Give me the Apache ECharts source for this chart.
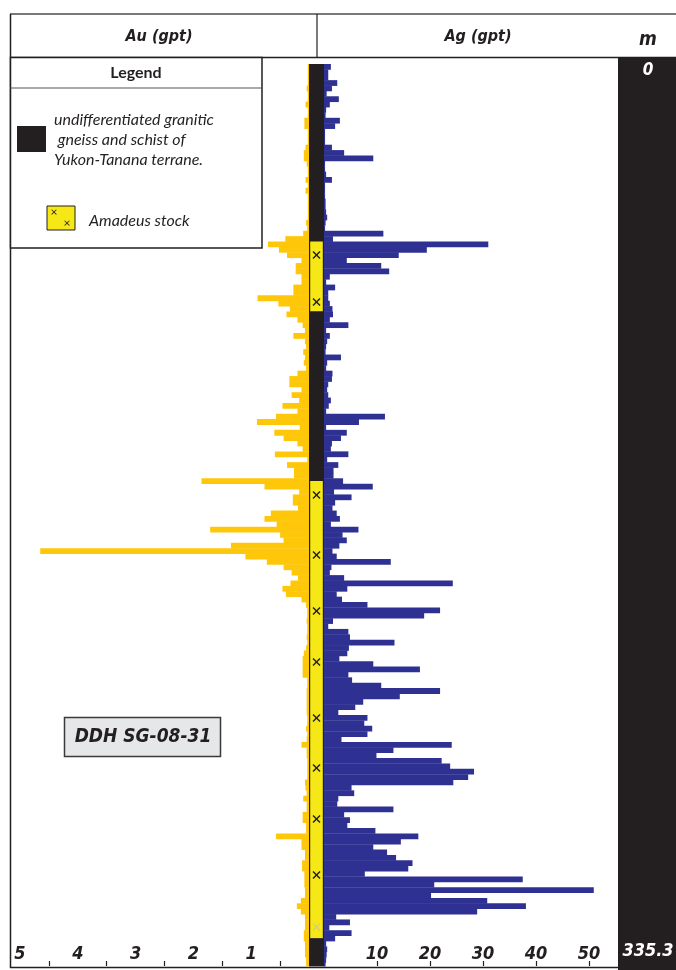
<!DOCTYPE html>
<html>
<head>
<meta charset="utf-8">
<script src="https://cdn.jsdelivr.net/npm/echarts@6/dist/echarts.min.js"></script>
<style>
  html, body { margin: 0; padding: 0; background: #fff; }
  #log { width: 676px; height: 970px; }
</style>
</head>
<body>
<div id="log"></div>
<script>
// drill hole DDH SG-08-31, 2 m assay intervals from collar (0 m) to 335.3 m
var holeDepth = 335.3;
var sampleLength = 2;

// Au (gpt) per interval, top to bottom
var auValues = [
  0.02, 0.02, 0.02, 0.02, 0.04, 0.02, 0.02, 0.06, 0.02, 0.02,
  0.08, 0.08, 0.02, 0.02, 0.02, 0.06, 0.09, 0.09, 0.04, 0.02,
  0.02, 0.06, 0.02, 0.06, 0.02, 0.02, 0.02, 0.02, 0.02, 0.05,
  0.03, 0.1, 0.41, 0.71, 0.52, 0.38, 0.13, 0.23, 0.23, 0.13,
  0.13, 0.27, 0.27, 0.89, 0.53, 0.33, 0.39, 0.2, 0.11, 0.07,
  0.27, 0.07, 0.05, 0.1, 0.07, 0.09, 0.05, 0.2, 0.34, 0.34,
  0.13, 0.3, 0.17, 0.46, 0.2, 0.57, 0.9, 0.16, 0.6, 0.44,
  0.2, 0.11, 0.59, 0.03, 0.38, 0.26, 0.26, 1.86, 0.77, 0.17,
  0.28, 0.28, 0.19, 0.66, 0.77, 0.56, 1.71, 0.5, 0.44, 1.35,
  4.65, 1.1, 0.73, 0.44, 0.3, 0.19, 0.32, 0.46, 0.4, 0.13,
  0.05, 0.03, 0.03, 0.04, 0.03, 0.03, 0.04, 0.03, 0.05, 0.09,
  0.11, 0.11, 0.11, 0.11, 0.03, 0.03, 0.04, 0.04, 0.04, 0.04,
  0.04, 0.03, 0.03, 0.05, 0.03, 0.04, 0.13, 0.04, 0.04, 0.03,
  0.03, 0.03, 0.03, 0.07, 0.06, 0.04, 0.1, 0.04, 0.04, 0.11,
  0.11, 0.05, 0.05, 0.57, 0.13, 0.13, 0.07, 0.07, 0.12, 0.12,
  0.08, 0.08, 0.08, 0.07, 0.07, 0.14, 0.21, 0.14, 0.07, 0.07,
  0.07, 0.09, 0.09, 0.07, 0.07, 0.07, 0.05, 0.05
];

// Ag (gpt) per interval, top to bottom
var agValues = [
  1.3, 0.8, 0.8, 2.5, 1.5, 0.5, 2.8, 1.1, 0.4, 0.3,
  3.0, 2.1, 0.2, 0.2, 0.2, 1.5, 3.8, 9.3, 0.2, 0.2,
  0.4, 1.5, 0.2, 0.2, 0.2, 0.3, 0.3, 0.4, 0.6, 0.3,
  0.2, 11.2, 1.7, 31, 19.4, 14.1, 4.3, 10.8, 12.3, 1.1,
  0.4, 2.1, 0.8, 0.8, 1.1, 1.6, 1.7, 1.1, 4.6, 0.4,
  1.1, 0.6, 0.4, 0.3, 3.2, 0.6, 0.4, 1.6, 1.5, 0.8,
  0.6, 0.8, 1.3, 0.9, 0.4, 11.5, 6.6, 0.4, 4.3, 3.2,
  1.5, 1.3, 4.6, 0.6, 2.7, 1.8, 1.8, 3.6, 9.2, 1.9,
  5.2, 2.1, 1.6, 2.4, 3.0, 1.3, 6.5, 3.5, 4.3, 2.9,
  1.6, 2.4, 12.6, 1.4, 1.1, 3.8, 24.3, 4.4, 2.4, 3.4,
  8.2, 21.9, 18.9, 1.7, 0.8, 4.6, 4.9, 13.3, 4.7, 4.4,
  2.9, 9.3, 18.1, 4.6, 5.3, 10.8, 21.9, 14.3, 7.4, 5.9,
  2.7, 8.2, 7.6, 9.1, 8.2, 3.3, 24.1, 13.1, 9.9, 22.2,
  23.8, 28.3, 27.2, 24.4, 5.2, 5.7, 2.7, 2.5, 13.1, 3.8,
  4.9, 4.4, 9.7, 17.8, 14.5, 9.3, 11.9, 13.6, 16.7, 15.9,
  7.7, 37.5, 20.8, 50.9, 20.2, 30.8, 38.1, 28.9, 2.3, 4.9,
  1.0, 5.2, 2.1, 0.4, 0.6, 0.5, 0.4, 0.3
];

// lithology intervals (m)
var lithoTops    = [0, 66, 92, 155, 325];
var lithoBottoms = [66, 92, 155, 325, 335.3];
var lithoUnits   = ['gneiss', 'stock', 'gneiss', 'stock', 'gneiss'];

// "x" symbols of the Amadeus stock (m)
var stockMarkDepths = [71.0, 88.5, 160.2, 182.5, 203.3, 222.3, 243.1, 261.7, 280.7, 301.5];
var faintMarkDepths = [320.8];

var auTickLabels = [1, 2, 3, 4, 5];
var auTickMarks  = [0.5, 1.5, 2.5, 3.5, 4.5];
var agTickLabels = [10, 20, 30, 40, 50];

var AU_COLOR = '#ffc709';
var AG_COLOR = '#2e3192';
var ROCK_DARK = '#231f20';
var ROCK_STOCK = '#f6e816';
var FONT = '"Liberation Sans Narrow", "DejaVu Sans Condensed", "DejaVu Sans", sans-serif';
var FONT2 = 'Lato, "Liberation Sans", sans-serif';

function toIntervals(values) {
  return values.map(function (v, i) {
    var top = i * sampleLength;
    return [top, Math.min(top + sampleLength, holeDepth), v];
  });
}

function barRenderer(color) {
  return function (params, api) {
    var a = api.coord([0, api.value(0)]);
    var b = api.coord([api.value(2), api.value(1)]);
    return {
      type: 'rect',
      shape: { x: Math.min(a[0], b[0]), y: a[1], width: Math.abs(b[0] - a[0]), height: b[1] - a[1] + 0.4 },
      style: { fill: color }
    };
  };
}

function markRenderer(color) {
  return function (params, api) {
    var c = api.coord([0.5, api.value(0)]);
    var s = 3.5;
    return {
      type: 'group',
      children: [
        { type: 'line', shape: { x1: c[0] - s, y1: c[1] - s, x2: c[0] + s, y2: c[1] + s }, style: { stroke: color, lineWidth: 1.4 } },
        { type: 'line', shape: { x1: c[0] - s, y1: c[1] + s, x2: c[0] + s, y2: c[1] - s }, style: { stroke: color, lineWidth: 1.4 } }
      ]
    };
  };
}

var lithoData = lithoTops.map(function (t, i) {
  return [t, lithoBottoms[i], lithoUnits[i] === 'stock' ? 1 : 0];
});

var axisLabelStyle = {
  inside: true,
  margin: 3,
  color: '#231f20',
  fontFamily: FONT,
  fontWeight: 'bold',
  fontStyle: 'italic',
  fontSize: 18
};

var myChart = echarts.init(document.getElementById('log'), null, { renderer: 'canvas' });

var option = {
  animation: false,
  grid: [
    { left: 20, top: 64, width: 289, height: 902 },
    { left: 309, top: 64, width: 15, height: 902 },
    { left: 324, top: 64, width: 291.5, height: 902 }
  ],
  xAxis: [
    {
      gridIndex: 0, type: 'value', position: 'bottom', min: 0, max: 5, inverse: true,
      axisLine: { show: false, onZero: false }, splitLine: { show: false },
      axisTick: { show: true, inside: true, length: 5, customValues: auTickMarks, lineStyle: { color: '#231f20', width: 1.2 } },
      axisLabel: Object.assign({ customValues: auTickLabels }, axisLabelStyle)
    },
    { gridIndex: 1, type: 'value', min: 0, max: 1, show: false },
    {
      gridIndex: 2, type: 'value', position: 'bottom', min: 0, max: 55,
      axisLine: { show: false, onZero: false }, splitLine: { show: false },
      axisTick: { show: true, inside: true, length: 5, customValues: agTickLabels, lineStyle: { color: '#231f20', width: 1.2 } },
      axisLabel: Object.assign({ customValues: agTickLabels }, axisLabelStyle)
    }
  ],
  yAxis: [0, 1, 2].map(function (g) {
    return { gridIndex: g, type: 'value', min: 0, max: holeDepth, inverse: true, show: false };
  }),
  series: [
    {
      name: 'Au (gpt)', type: 'custom', xAxisIndex: 0, yAxisIndex: 0,
      data: toIntervals(auValues), encode: { x: 2, y: [0, 1] },
      renderItem: barRenderer(AU_COLOR), silent: true
    },
    {
      name: 'Ag (gpt)', type: 'custom', xAxisIndex: 2, yAxisIndex: 2,
      data: toIntervals(agValues), encode: { x: 2, y: [0, 1] },
      renderItem: barRenderer(AG_COLOR), silent: true
    },
    {
      name: 'lithology', type: 'custom', xAxisIndex: 1, yAxisIndex: 1,
      data: lithoData, encode: { y: [0, 1] },
      renderItem: function (params, api) {
        var a = api.coord([0, api.value(0)]);
        var b = api.coord([1, api.value(1)]);
        var dark = { type: 'rect', shape: { x: a[0], y: a[1], width: b[0] - a[0], height: b[1] - a[1] + 0.4 }, style: { fill: ROCK_DARK } };
        if (api.value(2) === 0) return dark;
        return {
          type: 'group',
          children: [
            dark,
            { type: 'rect', shape: { x: a[0] + 1.2, y: a[1], width: b[0] - a[0] - 2.4, height: b[1] - a[1] }, style: { fill: ROCK_STOCK } }
          ]
        };
      },
      silent: true
    },
    {
      name: 'stock marks', type: 'custom', xAxisIndex: 1, yAxisIndex: 1,
      data: stockMarkDepths.map(function (d) { return [d]; }), encode: { y: 0 },
      renderItem: markRenderer('#231f20'), silent: true, z: 3
    },
    {
      name: 'faint marks', type: 'custom', xAxisIndex: 1, yAxisIndex: 1,
      data: faintMarkDepths.map(function (d) { return [d]; }), encode: { y: 0 },
      renderItem: markRenderer('#d8cf7a'), silent: true, z: 3
    }
  ],
  graphic: [
    // header frame
    { type: 'line', shape: { x1: 10, y1: 14, x2: 676, y2: 14 }, style: { stroke: '#4d4d4d', lineWidth: 1.5 } },
    { type: 'line', shape: { x1: 10, y1: 57.5, x2: 676, y2: 57.5 }, style: { stroke: '#231f20', lineWidth: 1.5 } },
    { type: 'line', shape: { x1: 10.5, y1: 14, x2: 10.5, y2: 968 }, style: { stroke: '#231f20', lineWidth: 1.5 } },
    { type: 'line', shape: { x1: 317, y1: 14, x2: 317, y2: 57 }, style: { stroke: '#231f20', lineWidth: 1.2 } },
    { type: 'text', style: { text: 'Au (gpt)', x: 159, y: 37, textAlign: 'center', textVerticalAlign: 'middle', font: 'italic bold 16px ' + FONT, fill: '#231f20' } },
    { type: 'text', style: { text: 'Ag (gpt)', x: 478, y: 37, textAlign: 'center', textVerticalAlign: 'middle', font: 'italic bold 16px ' + FONT, fill: '#231f20' } },
    { type: 'text', style: { text: 'm', x: 648, y: 40, textAlign: 'center', textVerticalAlign: 'middle', font: 'italic bold 19px ' + FONT, fill: '#231f20' } },
    // depth column
    { type: 'rect', shape: { x: 618, y: 58, width: 58, height: 912 }, style: { fill: ROCK_DARK } },
    { type: 'text', style: { text: '0', x: 648, y: 71, textAlign: 'center', textVerticalAlign: 'middle', font: 'italic bold 17px ' + FONT, fill: '#fff' } },
    { type: 'text', style: { text: '335.3', x: 648, y: 951, textAlign: 'center', textVerticalAlign: 'middle', font: 'italic bold 18px ' + FONT, fill: '#fff' } },
    // bottom axis line
    { type: 'line', shape: { x1: 10, y1: 967.5, x2: 618, y2: 967.5 }, style: { stroke: '#231f20', lineWidth: 1.5 } },
    // legend box
    { type: 'rect', shape: { x: 10.5, y: 57.5, width: 251.5, height: 190.5 }, style: { fill: '#fff', stroke: '#231f20', lineWidth: 1.5 } },
    { type: 'line', shape: { x1: 10.5, y1: 88, x2: 262, y2: 88 }, style: { stroke: '#555', lineWidth: 1.2 } },
    { type: 'text', style: { text: 'Legend', x: 136, y: 73, textAlign: 'center', textVerticalAlign: 'middle', font: 'bold 16px ' + FONT2, fill: '#231f20' } },
    { type: 'rect', shape: { x: 17, y: 126, width: 29, height: 26 }, style: { fill: ROCK_DARK } },
    { type: 'text', style: { text: 'undifferentiated granitic', x: 54, y: 120, textVerticalAlign: 'middle', font: 'italic 16px ' + FONT2, fill: '#231f20' } },
    { type: 'text', style: { text: ' gneiss and schist of', x: 54, y: 140, textVerticalAlign: 'middle', font: 'italic 16px ' + FONT2, fill: '#231f20' } },
    { type: 'text', style: { text: 'Yukon-Tanana terrane.', x: 54, y: 160, textVerticalAlign: 'middle', font: 'italic 16px ' + FONT2, fill: '#231f20' } },
    { type: 'rect', shape: { x: 47, y: 206, width: 28, height: 24 }, style: { fill: ROCK_STOCK, stroke: '#231f20', lineWidth: 1 } },
    { type: 'text', style: { text: '×', x: 54, y: 212, textAlign: 'center', textVerticalAlign: 'middle', font: '12px ' + FONT2, fill: '#231f20' } },
    { type: 'text', style: { text: '×', x: 67, y: 223, textAlign: 'center', textVerticalAlign: 'middle', font: '12px ' + FONT2, fill: '#231f20' } },
    { type: 'text', style: { text: 'Amadeus stock', x: 89, y: 221, textVerticalAlign: 'middle', font: 'italic 16px ' + FONT2, fill: '#231f20' } },
    // hole label
    { type: 'rect', shape: { x: 64.5, y: 717.5, width: 156, height: 39 }, style: { fill: '#e6e7e8', stroke: '#3a3a3a', lineWidth: 1.5 } },
    { type: 'text', style: { text: 'DDH SG-08-31', x: 143, y: 737, textAlign: 'center', textVerticalAlign: 'middle', font: 'italic bold 19px ' + FONT, fill: '#231f20' } }
  ]
};

myChart.setOption(option);
</script>
</body>
</html>
